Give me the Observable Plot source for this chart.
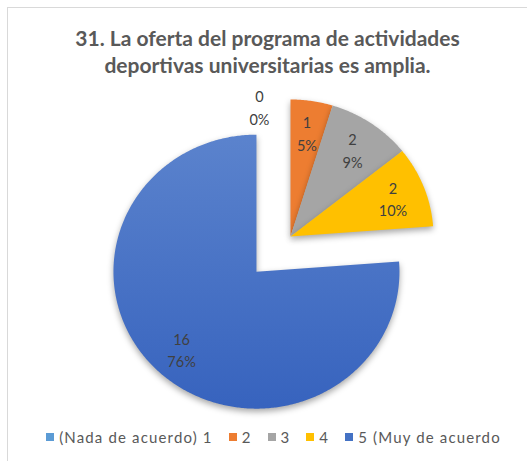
<!DOCTYPE html>
<html>
<head>
<meta charset="utf-8">
<script src="https://cdn.jsdelivr.net/npm/d3@7"></script>
<script src="https://cdn.jsdelivr.net/npm/@observablehq/plot@0.6"></script>
<style>
  body { margin: 0; background: #fff; width: 527px; height: 461px; overflow: hidden; position: relative; font-family: Lato, "Open Sans", sans-serif; }
  #frame { position: absolute; left: 7px; top: 7px; width: 540px; height: 470px; border: 1px solid #d9d9d9; box-sizing: border-box; }
  #title { position: absolute; left: 4px; width: 527px; top: 24px; text-align: center; font-weight: 700; font-size: 21px; line-height: 27px; color: #595959; }
  #chart { position: absolute; left: 0; top: 80px; }
  #chart svg { overflow: visible; }
  #legend { position: absolute; left: 10px; width: 527px; top: 428px; display: flex; justify-content: center; font-size: 15px; letter-spacing: 1.15px; color: #595959; white-space: nowrap; }
  .item { display: flex; align-items: center; margin: 0 8px; }
  .sw { width: 8px; height: 8px; margin-right: 5px; }
</style>
</head>
<body>
<div id="frame"></div>
<div id="title">31. La oferta del programa de actividades<br>deportivas universitarias es amplia.</div>
<div id="chart"></div>
<div id="legend"></div>
<script>
// ---- data ----
const categories = ["(Nada de acuerdo) 1", "2", "3", "4", "5 (Muy de acuerdo"];
const counts = [0, 1, 2, 2, 16];
const percents = ["0%", "5%", "9%", "10%", "76%"];
const colors = ["#5B9BD5", "#ED7D31", "#A5A5A5", "#FFC000", "#4472C4"];

// ---- layout ----
const W = 527, H = 340, topPx = 80;
const cx = 290, cy = 236, Rx = 143, Ry = 137;   // pie centre & radii in page pixels
const explode = [0, 0, 0, 0, 0.35];  // fraction of radius
const labelR = 0.77;

const total = d3.sum(counts);
let acc = 0;
const slices = counts.map((c, i) => {
  const a0 = acc / total * 2 * Math.PI;
  acc += c;
  const a1 = acc / total * 2 * Math.PI;
  const mid = (a0 + a1) / 2;
  const ox = explode[i] * Math.sin(mid), oy = explode[i] * Math.cos(mid);
  return {i, c, a0, a1, mid, ox, oy};
});

const marks = [];
for (const s of slices) {
  if (s.c === 0) continue;
  const pts = [{x: s.ox, y: s.oy}];
  const n = Math.max(4, Math.ceil((s.a1 - s.a0) / 0.01));
  for (let k = 0; k <= n; k++) {
    const a = s.a0 + (s.a1 - s.a0) * k / n;
    pts.push({x: s.ox + Math.sin(a), y: s.oy + Math.cos(a)});
  }
  pts.push({x: s.ox, y: s.oy});
  marks.push(Plot.line(pts, {x: "x", y: "y", fill: s.i === 4 ? "url(#gBlue)" : colors[s.i], stroke: "none", curve: "linear"}));
}

const labels = slices.map(s => {
  if (s.c === 0) {
    const a = s.mid - 0.225, r = 0.975;
    return {x: r * Math.sin(a), y: r * Math.cos(a), t: counts[s.i] + "\n" + percents[s.i]};
  }
  return {x: s.ox + labelR * Math.sin(s.mid), y: s.oy + labelR * Math.cos(s.mid), t: counts[s.i] + "\n" + percents[s.i]};
});
marks.push(Plot.text(labels, {x: "x", y: "y", text: "t", fill: "#404040", fontSize: 14.5, lineHeight: 1.55, fontFamily: "Lato, sans-serif"}));

const plot = Plot.plot({
  width: W, height: H, margin: 0,
  x: {domain: [(0 - cx) / Rx, (W - cx) / Rx], axis: null},
  y: {domain: [(cy - topPx - H) / Ry, (cy - topPx) / Ry], axis: null},
  marks
});

// gradient + shadow
const defs = d3.select(plot).insert("defs", ":first-child");
const g = defs.append("linearGradient").attr("id", "gBlue").attr("x1", 0).attr("y1", 0).attr("x2", 0).attr("y2", 1);
g.append("stop").attr("offset", "0%").attr("stop-color", "#5B83CD");
g.append("stop").attr("offset", "100%").attr("stop-color", "#3763BE");
d3.select(plot).selectAll("g[aria-label=line]").style("filter", "drop-shadow(0px 3px 3px rgba(0,0,0,0.35))");

document.getElementById("chart").appendChild(plot);

// legend
const leg = d3.select("#legend");
categories.forEach((c, i) => {
  const it = leg.append("div").attr("class", "item");
  it.append("div").attr("class", "sw").style("background", colors[i]);
  it.append("span").text(c);
});
</script>
</body>
</html>
